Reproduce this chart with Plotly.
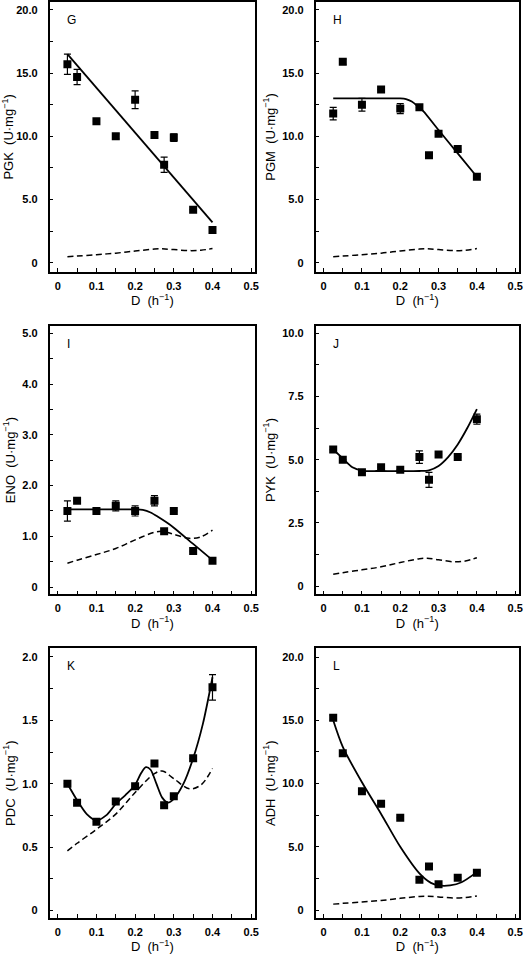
import plotly.graph_objects as go

# ---------------- data ----------------
D = [0.025, 0.05, 0.1, 0.15, 0.2, 0.25, 0.275, 0.3, 0.35, 0.4]

pgk = [15.7, 14.7, 11.2, 10.0, 12.9, 10.1, 7.75, 9.9, 4.2, 2.6]
pgk_err = [0.8, 0.6, 0, 0.2, 0.7, 0, 0.6, 0.3, 0, 0]
pgk_fit_x = [0.025, 0.4]
pgk_fit_y = [16.5, 3.2]

pgm = [11.8, 15.9, 12.5, 13.7, 12.2, 12.3, 8.5, 10.2, 9.0, 6.8]
pgm_err = [0.5, 0.2, 0.5, 0, 0.4, 0, 0, 0, 0, 0]
pgm_fit_x = [0.025, 0.1, 0.2, 0.215, 0.23, 0.245, 0.26, 0.3, 0.35, 0.4]
pgm_fit_y = [13.0, 13.0, 13.0, 12.95, 12.75, 12.4, 12.0, 10.5, 8.65, 6.8]

eno = [1.5, 1.7, 1.5, 1.6, 1.5, 1.7, 1.1, 1.5, 0.71, 0.52]
eno_err = [0.2, 0, 0, 0.1, 0.1, 0.1, 0, 0, 0, 0]
eno_fit_x = [0.025, 0.1, 0.2, 0.22, 0.24, 0.26, 0.28, 0.3, 0.35, 0.4]
eno_fit_y = [1.53, 1.53, 1.53, 1.52, 1.47, 1.38, 1.28, 1.17, 0.85, 0.53]

pyk = [5.4, 5.0, 4.5, 4.7, 4.6, 5.1, 4.2, 5.2, 5.1, 6.6]
pyk_err = [0, 0, 0, 0, 0, 0.25, 0.3, 0, 0, 0.2]
pyk_fit_x = [0.025, 0.05, 0.075, 0.1, 0.15, 0.2, 0.25, 0.275, 0.3, 0.325, 0.35, 0.375, 0.4]
pyk_fit_y = [5.4, 5.05, 4.7, 4.57, 4.55, 4.55, 4.55, 4.58, 4.75, 5.1, 5.6, 6.25, 7.0]

pdc = [1.0, 0.85, 0.70, 0.86, 0.98, 1.16, 0.83, 0.90, 1.2, 1.76]
pdc_err = [0, 0, 0, 0, 0, 0, 0, 0, 0, 0.1]
pdc_fit_x = [0.025, 0.05, 0.075, 0.1, 0.125, 0.15, 0.175, 0.2, 0.215, 0.228, 0.24,
             0.255, 0.27, 0.285, 0.3, 0.325, 0.35, 0.375, 0.4]
pdc_fit_y = [1.0, 0.87, 0.76, 0.71, 0.75, 0.84, 0.91, 0.99, 1.08, 1.13, 1.11,
             1.0, 0.89, 0.85, 0.88, 1.0, 1.2, 1.47, 1.84]

adh = [15.2, 12.4, 9.4, 8.4, 7.3, 2.4, 3.45, 2.05, 2.55, 2.95]
adh_err = [0.2, 0, 0, 0, 0, 0, 0, 0, 0, 0]
adh_fit_x = [0.025, 0.05, 0.1, 0.15, 0.2, 0.25, 0.28, 0.3, 0.33, 0.36, 0.4]
adh_fit_y = [15.0, 12.9, 10.1, 7.6, 5.0, 2.9, 2.15, 1.95, 1.95, 2.2, 3.0]

dash_x = [0.025, 0.05, 0.1, 0.15, 0.2, 0.25, 0.27, 0.3, 0.34, 0.37, 0.4]
dash_y = [0.47, 0.53, 0.64, 0.76, 0.93, 1.08, 1.1, 1.04, 0.96, 0.99, 1.12]

x_tickvals = [0, 0.1, 0.2, 0.3, 0.4, 0.5]
x_ticktext = ["0", "0.1", "0.2", "0.3", "0.4", "0.5"]

panels = [
    dict(letter="G", name="PGK", y=pgk, err=pgk_err, fx=pgk_fit_x, fy=pgk_fit_y, shape="linear",
         yrange=[-0.71, 20.63], tv=[0, 5, 10, 15, 20], tt=["0", "5.0", "10.0", "15.0", "20.0"], minor=2.5),
    dict(letter="H", name="PGM", y=pgm, err=pgm_err, fx=pgm_fit_x, fy=pgm_fit_y, shape="spline",
         yrange=[-0.71, 20.63], tv=[0, 5, 10, 15, 20], tt=["0", "5.0", "10.0", "15.0", "20.0"], minor=2.5),
    dict(letter="I", name="ENO", y=eno, err=eno_err, fx=eno_fit_x, fy=eno_fit_y, shape="spline",
         yrange=[-0.144, 5.15], tv=[0, 1, 2, 3, 4, 5], tt=["0", "1.0", "2.0", "3.0", "4.0", "5.0"], minor=0.5),
    dict(letter="J", name="PYK", y=pyk, err=pyk_err, fx=pyk_fit_x, fy=pyk_fit_y, shape="spline",
         yrange=[-0.33, 10.3], tv=[0, 2.5, 5, 7.5, 10], tt=["0", "2.5", "5.0", "7.5", "10.0"], minor=1.25),
    dict(letter="K", name="PDC", y=pdc, err=pdc_err, fx=pdc_fit_x, fy=pdc_fit_y, shape="spline",
         yrange=[-0.06, 2.068], tv=[0, 0.5, 1, 1.5, 2], tt=["0", "0.5", "1.0", "1.5", "2.0"], minor=0.25),
    dict(letter="L", name="ADH", y=adh, err=adh_err, fx=adh_fit_x, fy=adh_fit_y, shape="spline",
         yrange=[-0.63, 20.69], tv=[0, 5, 10, 15, 20], tt=["0", "5.0", "10.0", "15.0", "20.0"], minor=2.5),
]

W, H = 526, 962
col_px = [(50, 257), (318, 523)]
row_px = [(1, 271), (325, 594), (648, 918)]

FONT = "Liberation Sans, Arial, Helvetica, sans-serif"
fig = go.Figure()
annotations = []
layout = dict(width=W, height=H, margin=dict(l=0, r=0, t=0, b=0),
              paper_bgcolor="white", plot_bgcolor="white", showlegend=False,
              font=dict(family=FONT, color="black"))

for i, p in enumerate(panels):
    k = i + 1
    xa = "x" if k == 1 else f"x{k}"
    ya = "y" if k == 1 else f"y{k}"
    r, c = divmod(i, 2)
    x0, x1 = col_px[c]
    y0, y1 = row_px[r]
    xdom = [x0 / W, x1 / W]
    ydom = [1 - y1 / H, 1 - y0 / H]

    # dashed reference curve
    fig.add_trace(go.Scatter(x=dash_x, y=dash_y, mode="lines", xaxis=xa, yaxis=ya,
                             line=dict(color="black", width=1.5, dash="6px,3.5px", shape="spline"),
                             hoverinfo="skip"))
    # fitted curve
    fig.add_trace(go.Scatter(x=p["fx"], y=p["fy"], mode="lines", xaxis=xa, yaxis=ya,
                             line=dict(color="black", width=1.8, shape=p["shape"], smoothing=0.8)))
    # measured points
    fig.add_trace(go.Scatter(x=D, y=p["y"], mode="markers", xaxis=xa, yaxis=ya,
                             marker=dict(symbol="square", size=8, color="black"),
                             error_y=dict(type="data", array=p["err"], color="black",
                                          thickness=1.2, width=3.5)))

    axis_common = dict(showline=True, linecolor="black", linewidth=1.5, mirror=True,
                       ticks="inside", ticklen=4, tickwidth=1.2, tickcolor="black",
                       showgrid=False, zeroline=False,
                       tickfont=dict(family=FONT, size=11, color="black"))
    layout["xaxis" if k == 1 else f"xaxis{k}"] = dict(
        axis_common, domain=xdom, anchor=ya, range=[-0.021, 0.51],
        tickvals=x_tickvals, ticktext=[f"<b>{t}</b>" for t in x_ticktext], ticklabelstandoff=3,
        minor=dict(dtick=0.05, tick0=0, ticks="inside", ticklen=4, tickwidth=1.2, tickcolor="black"),
        title=dict(text="D\u00a0\u00a0(h<sup>\u22121</sup>)", standoff=5,
                   font=dict(family=FONT, size=13, color="black")))
    layout["yaxis" if k == 1 else f"yaxis{k}"] = dict(
        axis_common, domain=ydom, anchor=xa, range=p["yrange"],
        tickvals=p["tv"], ticktext=[f"<b>{t}</b>" for t in p["tt"]], ticklabelstandoff=8,
        minor=dict(dtick=p["minor"], tick0=0, ticks="inside", ticklen=4, tickwidth=1.2, tickcolor="black"),
        title=dict(text=f"{p['name']}\u00a0\u00a0(U\u00b7mg<sup>\u22121</sup>)", standoff=4,
                   font=dict(family=FONT, size=13, color="black")))
    annotations.append(dict(text=p["letter"], xref=f"{xa} domain", yref=f"{ya} domain",
                            x=0.075, y=0.933, xanchor="left", yanchor="middle", showarrow=False,
                            font=dict(family=FONT, size=12, color="black")))

layout["annotations"] = annotations
fig.update_layout(**layout)
fig.write_html("out.html", config={"displayModeBar": False},
               post_script="document.body.style.margin='0px';")
